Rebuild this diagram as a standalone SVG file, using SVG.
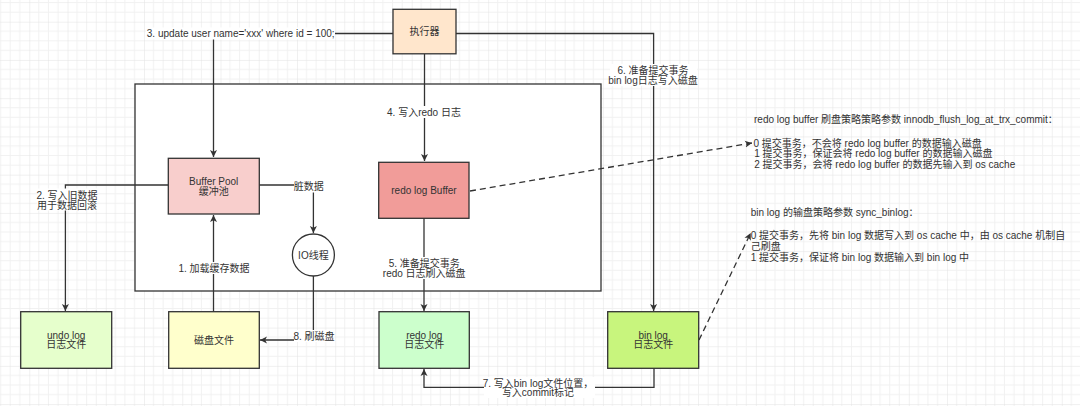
<svg xmlns="http://www.w3.org/2000/svg" width="1080" height="406" viewBox="0 0 1080 406">
<defs>
<pattern id="grid" patternUnits="userSpaceOnUse" x="29.3" y="21.7" width="38.24" height="38.24">
<path d="M9.56 0V38.24M19.12 0V38.24M28.68 0V38.24M0 9.56H38.24M0 19.12H38.24M0 28.68H38.24" stroke="#f1f1f1" stroke-width="1" fill="none"/>
<path d="M0 0V38.24M0 0H38.24" stroke="#e2e2e2" stroke-width="1" fill="none"/>
</pattern>
<marker id="arr" markerWidth="10" markerHeight="10" refX="7" refY="4" orient="auto" markerUnits="userSpaceOnUse">
<path d="M0 0.5 L7 4 L0 7.5 L1.8 4 Z" fill="#333"/>
</marker>
<style>
text{font-family:"Liberation Sans","Noto Sans CJK SC",sans-serif;font-size:10px;fill:#333;}
.c{text-anchor:middle;}
.n{stroke:#333;stroke-width:1.3;}
.e{fill:none;stroke:#333;stroke-width:1.3;}
.d{fill:none;stroke:#333;stroke-width:1.3;stroke-dasharray:6 4;}
.bg{fill:#fff;}
</style>
</defs>
<rect width="1080" height="406" fill="#fff"/>
<rect width="1080" height="406" fill="url(#grid)"/>
<g id="container"><rect x="135" y="84" width="466" height="207" fill="#fff" class="n"/></g>
<g id="connectors">
<path class="e" d="M393 33.5H213.5V157" marker-end="url(#arr)"/>
<path class="e" d="M424.5 54V161" marker-end="url(#arr)"/>
<path class="e" d="M456 33.5H653.6V311" marker-end="url(#arr)"/>
<path class="e" d="M168 185H65.4V311" marker-end="url(#arr)"/>
<path class="e" d="M259 185H313.4V233" marker-end="url(#arr)"/>
<path class="e" d="M213.5 312V215" marker-end="url(#arr)"/>
<path class="e" d="M313.4 276V340H260" marker-end="url(#arr)"/>
<path class="e" d="M424 218V311" marker-end="url(#arr)"/>
<path class="e" d="M654 368V387.3H424V369" marker-end="url(#arr)"/>
<path class="d" d="M470 191L752 143" marker-end="url(#arr)"/>
<path class="d" d="M699 340L750.7 233" marker-end="url(#arr)"/>
<rect class="bg" x="146" y="27.5" width="189" height="12"/>
<text x="240.7" y="37.3" class="c">3. update user name='xxx' where id = 100;</text>
<rect class="bg" x="388" y="106" width="73" height="12"/>
<text x="424" y="115.9" class="c">4. 写入redo 日志</text>
<rect class="bg" x="610" y="64" width="87" height="22"/>
<text x="653" y="73.9" class="c">6. 准备提交事务</text>
<text x="653" y="84.2" class="c">bin log日志写入磁盘</text>
<rect class="bg" x="37" y="188.5" width="60" height="22"/>
<text x="67" y="198.7" class="c">2. 写入旧数据</text>
<text x="67" y="209" class="c">用于数据回滚</text>
<rect class="bg" x="294" y="180.5" width="30" height="12"/>
<text x="308.7" y="190.3" class="c">脏数据</text>
<rect class="bg" x="181" y="262" width="66" height="12"/>
<text x="214" y="271.7" class="c">1. 加载缓存数据</text>
<rect class="bg" x="294" y="330" width="40" height="12"/>
<text x="314" y="339.7" class="c">8. 刷磁盘</text>
<rect class="bg" x="384" y="257" width="81" height="22"/>
<text x="424.2" y="266.9" class="c">5. 准备提交事务</text>
<text x="424.2" y="277.2" class="c">redo 日志刷入磁盘</text>
<rect class="bg" x="484" y="377" width="111" height="21"/>
<text x="538" y="386.9" class="c">7. 写入bin log文件位置，</text>
<text x="538" y="396.3" class="c">写入commit标记</text>
</g>
<g id="executor"><rect x="393" y="9.3" width="63" height="44.5" fill="#ffe6cc" class="n"/><text x="424.5" y="35.3" class="c">执行器</text></g>
<g id="buffer-pool"><rect x="168.3" y="158.3" width="91" height="55.7" fill="#f8cecc" class="n"/><text x="213.7" y="185.2" class="c">Buffer Pool</text><text x="213.7" y="195" class="c">缓冲池</text></g>
<g id="redo-log-buffer"><rect x="378.7" y="162.3" width="90.3" height="56" fill="#f19c99" class="n"/><text x="424" y="193.6" class="c">redo log Buffer</text></g>
<g id="io-thread"><circle cx="313.4" cy="255" r="21" fill="#fff" class="n"/><text x="313.4" y="258.6" class="c">IO线程</text></g>
<g id="undo-log"><rect x="20.7" y="311.7" width="91" height="56.6" fill="#e6ffcc" class="n"/><text x="66.2" y="338.6" class="c">undo log</text><text x="66.2" y="348.3" class="c">日志文件</text></g>
<g id="disk-file"><rect x="168.7" y="311.7" width="90.6" height="56.6" fill="#ffffcc" class="n"/><text x="214" y="343.6" class="c">磁盘文件</text></g>
<g id="redo-log-file"><rect x="379" y="311.7" width="90.3" height="56.6" fill="#ccffcc" class="n"/><text x="424.2" y="338.6" class="c">redo log</text><text x="424.2" y="348.3" class="c">日志文件</text></g>
<g id="bin-log-file"><rect x="607.7" y="311.7" width="91" height="56.6" fill="#c8f57d" class="n"/><text x="653.2" y="338.6" class="c">bin log</text><text x="653.2" y="348.3" class="c">日志文件</text></g>
<g id="redo-note">
<text x="754" y="122.6">redo log buffer 刷盘策略策略参数 innodb_flush_log_at_trx_commit：</text>
<text x="753.5" y="146.6">0 提交事务，不会将 redo log buffer 的数据输入磁盘</text>
<text x="754.2" y="157">1 提交事务，保证会将 redo log buffer 的数据输入磁盘</text>
<text x="754.2" y="168.3">2 提交事务，会将 redo log buffer 的数据先输入到 os cache</text>
</g>
<g id="binlog-note">
<text x="750.7" y="215.6">bin log 的输盘策略参数 sync_binlog：</text>
<text x="750.7" y="238.6">0 提交事务，先将 bin log 数据写入到 os cache 中，由 os cache 机制自</text>
<text x="750.7" y="249.9">己刷盘</text>
<text x="750.7" y="261.2">1 提交事务，保证将 bin log 数据输入到 bin log 中</text>
</g>
</svg>
